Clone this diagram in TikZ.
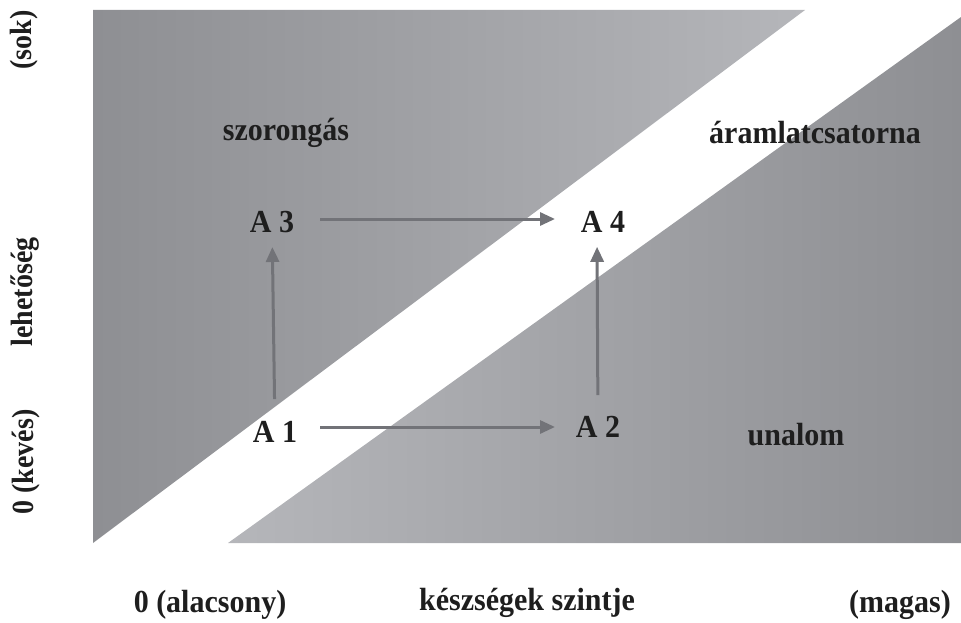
\documentclass[tikz,border=0pt]{standalone}
\usepackage{fontspec}
\setmainfont{Liberation Serif}
\usetikzlibrary{arrows.meta}
\definecolor{darkgr}{HTML}{8E8F93}
\definecolor{lightgr}{HTML}{B5B6BA}
\definecolor{arrgr}{HTML}{727378}
\definecolor{txt}{HTML}{1E1E1E}

\begin{document}
\begin{tikzpicture}[x=1pt, y=-1pt,
  lbl/.style={font=\fontsize{30}{34}\selectfont\bfseries, text=txt, inner sep=0pt,
              yscale=1.07},
  vlbl/.style={font=\fontsize{28}{32}\selectfont\bfseries, text=txt, inner sep=0pt,
               xscale=1.1, rotate=90},
  fl/.style={-{Triangle[length=15pt, width=13pt]}, arrgr, line width=3pt}]
\useasboundingbox (0,0) rectangle (961,623);

% ================================================================ the two fields
\shade[left color=darkgr, right color=lightgr] (93,10) -- (805,10) -- (93,543) -- cycle;
\shade[left color=lightgr, right color=darkgr] (228,543) -- (961,543) -- (961,17) -- cycle;

% ================================================================ zones
\node[lbl] (anx) at (286,133) {szorongás};
\node[lbl] (flow) at (815,133) {áramlatcsatorna};
\node[lbl] (bore) at (796,435) {unalom};

% ================================================================ states
\node[lbl] (A3) at (272,222) {A 3};
\node[lbl] (A4) at (603,222) {A 4};
\node[lbl] (A1) at (275,432) {A 1};
\node[lbl] (A2) at (598,427) {A 2};

\draw[fl, shorten <=48pt, shorten >=48pt] ([yshift=3pt]A3.center) -- ([yshift=3pt]A4.center);
\draw[fl, shorten <=45pt, shorten >=43pt] ([yshift=5pt]A1.center) -- (A2.center);
\draw[fl, shorten <=22pt, shorten >=14pt] (A1) -- (A3);
\draw[fl, shorten <=21pt, shorten >=14pt] (A2) -- ([xshift=-6pt]A4.south);

% ================================================================ axes
\node[lbl] (xlo) at (210,605) {0 (alacsony)};
\node[lbl] (xname) at (527,603) {készségek szintje};
\node[lbl] (xhi) at (900,605) {(magas)};
\node[vlbl] (yhi) at (24,40) {(sok)};
\node[vlbl] (yname) at (25,292) {lehetőség};
\node[vlbl] (ylo) at (26,462) {0 (kevés)};

\end{tikzpicture}
\end{document}
